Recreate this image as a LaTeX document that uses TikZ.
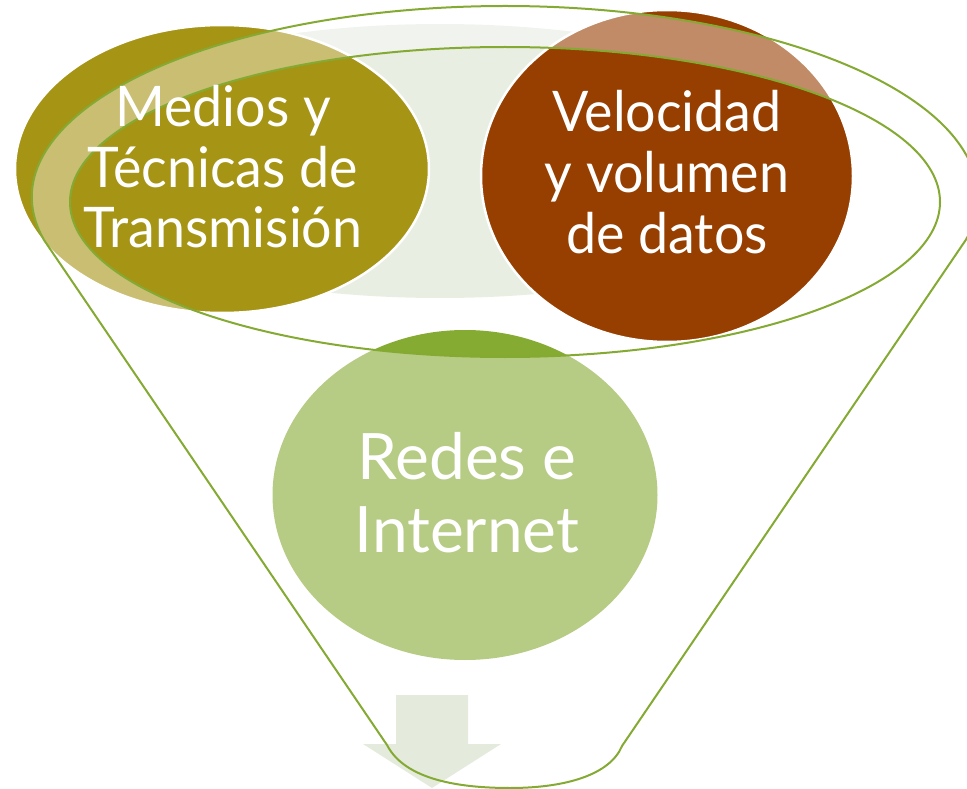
\documentclass[tikz,border=0pt]{standalone}
\usepackage{fontspec}
\setmainfont{Lato}
\newfontfamily\narrowlato[FakeStretch=0.96]{Lato}
\usetikzlibrary{shapes.geometric}
\definecolor{cOlive}{HTML}{A69415}
\definecolor{cBrown}{HTML}{963F00}
\definecolor{cGreen}{HTML}{86AB32}
\definecolor{cLine}{HTML}{84AA33}
\definecolor{cPale}{HTML}{E9EEE3}
\definecolor{cArrow}{HTML}{E4EBDD}
\begin{document}
\begin{tikzpicture}[x=1pt,y=-1pt,
  blob/.style={ellipse, inner sep=0pt, outer sep=0pt, draw=white, line width=2.5pt},
  lbl/.style={anchor=base, text=white, inner sep=0pt, font=\narrowlato\fontsize{56}{60}\selectfont},
  lblbig/.style={lbl, font=\fontsize{64}{73}\selectfont},
  rim/.style={draw=cLine, line width=2pt, line join=round}]
\useasboundingbox (0,0) rectangle (967,789);
\clip (0,0) rectangle (967,789);
% pale background ellipse
\fill[cPale] (440,161) ellipse [x radius=400, y radius=137];
% circles
\node[blob, fill=cOlive, minimum width=414pt, minimum height=288pt] (med) at (222,169) {};
\node[blob, fill=cBrown, minimum width=372pt, minimum height=332pt] (vel) at (667,176) {};
\node[blob, fill=cGreen, draw=none, minimum width=385pt, minimum height=330pt] (red) at (465,495) {};
% funnel geometry
\coordinate (ic) at (505,202);
\coordinate (lt) at (44,240);
\coordinate (rb) at (622,746);
\coordinate (lb) at (387,745);
\coordinate (bot) at (510,788);
% funnel body (translucent)
\fill[white, fill opacity=0.4, even odd rule]
  (lt) arc[start angle=167, end angle=373, x radius=473, y radius=191]
  -- (rb) .. controls (610,775) and (565,788) .. (bot)
  .. controls (460,788) and (405,780) .. (lb) -- cycle
  (ic) ellipse [x radius=435, y radius=155];
% down arrow
\fill[cArrow] (396,695) -- (468,695) -- (468,744) -- (501,744) -- (432,788)
  -- (363,744) -- (396,744) -- cycle;
% funnel outline
\draw[rim] (lt) arc[start angle=167, end angle=373, x radius=473, y radius=191]
  -- (rb) .. controls (610,775) and (565,788) .. (bot)
  .. controls (460,788) and (405,780) .. (lb) -- cycle;
\draw[rim] (ic) ellipse [x radius=435, y radius=155];
% labels
\node[lbl] (m1) at (223,127) {Medios y};
\node[lbl] (m2) at (223,187) {Técnicas de};
\node[lbl] (m3) at (223,247) {Transmisión};
\node[lbl] (v1) at (667,132) {Velocidad};
\node[lbl] (v2) at (667,193) {y volumen};
\node[lbl] (v3) at (667,253) {de datos};
\node[lblbig] (r1) at (467,479) {Redes e};
\node[lblbig] (r2) at (467,552) {Internet};
\end{tikzpicture}
\end{document}
